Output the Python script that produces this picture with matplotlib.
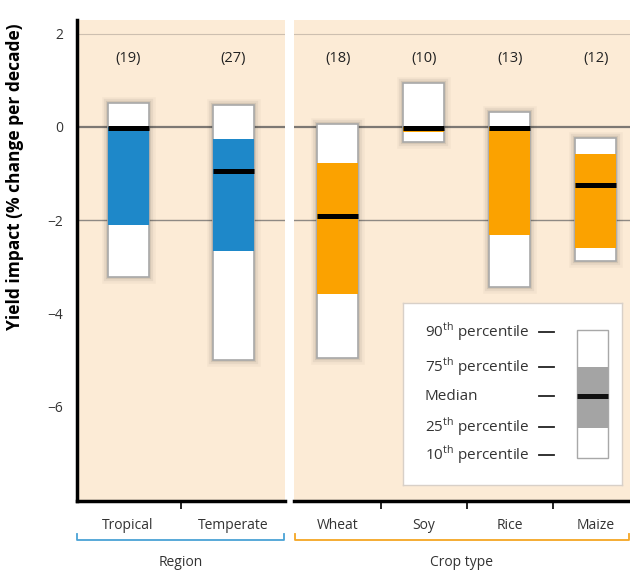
import matplotlib
matplotlib.use("Agg")
import matplotlib.pyplot as plt
import matplotlib.patheffects as pe
from matplotlib.patches import Rectangle

plt.rcParams["font.family"] = ["Open Sans", "DejaVu Sans"]

# percentiles per group: 10th, 25th, median, 75th, 90th
region_names = ["Tropical", "Temperate"]
region_counts = [19, 27]
region_p10 = [-3.22, -5.0]
region_p25 = [-2.1, -2.67]
region_med = [-0.03, -0.95]
region_p75 = [0.0, -0.26]
region_p90 = [0.52, 0.47]

crop_names = ["Wheat", "Soy", "Rice", "Maize"]
crop_counts = [18, 10, 13, 12]
crop_p10 = [-4.97, -0.33, -3.44, -2.88]
crop_p25 = [-3.6, -0.1, -2.32, -2.6]
crop_med = [-1.92, -0.03, -0.03, -1.25]
crop_p75 = [-0.78, 0.0, 0.0, -0.58]
crop_p90 = [0.07, 0.95, 0.33, -0.24]

legend_labels = ["90$^{\\mathregular{th}}$ percentile", "75$^{\\mathregular{th}}$ percentile",
                 "Median", "25$^{\\mathregular{th}}$ percentile", "10$^{\\mathregular{th}}$ percentile"]

BG = "#fcebd6"
BLUE = "#1e88c9"
ORANGE = "#fba200"
EDGE = "#a8a8a8"

W, H = 630, 572
fig = plt.figure(figsize=(W / 100, H / 100), dpi=100)


def px_box(x0, y0, x1, y1):
    return [x0 / W, 1 - y1 / H, (x1 - x0) / W, (y1 - y0) / H]


ax1 = fig.add_axes(px_box(77, 20, 285, 501))
ax2 = fig.add_axes(px_box(294, 20, 630, 501))

glow = [pe.Stroke(linewidth=9, foreground="#000000", alpha=0.03),
        pe.Stroke(linewidth=6, foreground="#000000", alpha=0.05),
        pe.Stroke(linewidth=3, foreground="#000000", alpha=0.08),
        pe.Normal()]


def draw_boxes(ax, names, counts, p10, p25, med, p75, p90, color, width, xlim):
    ax.set_facecolor(BG)
    ax.set_xlim(*xlim)
    ax.set_ylim(-8.04, 2.3)
    ax.axhline(2, color="#cdbfb0", lw=0.8, zorder=1)
    ax.axhline(0, color="#7d7873", lw=1.6, zorder=1)
    ax.axhline(-2, color="#8e8984", lw=1.0, zorder=1)
    for i in range(len(names)):
        outer = Rectangle((i - width / 2, p10[i]), width, p90[i] - p10[i],
                          facecolor="white", edgecolor=EDGE, lw=1.2, zorder=2)
        outer.set_path_effects(glow)
        ax.add_patch(outer)
        ax.add_patch(Rectangle((i - width / 2, p25[i]), width, p75[i] - p25[i],
                               facecolor=color, edgecolor="none", zorder=3))
        ax.hlines(med[i], i - width / 2, i + width / 2, color="black", lw=3.6, zorder=4)
        ax.text(i, 1.48, "(%d)" % counts[i], ha="center", va="center", fontsize=10.5,
                color="#222222")
    ax.set_xticks(range(len(names)))
    ax.set_xticklabels(names, fontsize=10, color="#333333")
    ax.tick_params(axis="x", which="major", length=0, pad=12)
    ax.set_xticks([i + 0.5 for i in range(len(names) - 1)], minor=True)
    ax.tick_params(axis="x", which="minor", length=6, width=1.2, direction="out")
    for s in ["top", "right"]:
        ax.spines[s].set_visible(False)
    ax.spines["bottom"].set_linewidth(2.5)


draw_boxes(ax1, region_names, region_counts, region_p10, region_p25, region_med,
           region_p75, region_p90, BLUE, 0.39, (-0.486, 1.495))
draw_boxes(ax2, crop_names, crop_counts, crop_p10, crop_p25, crop_med,
           crop_p75, crop_p90, ORANGE, 0.48, (-0.51, 3.40))

ax1.spines["left"].set_linewidth(2.5)
ax1.set_yticks([2, 0, -2, -4, -6])
ax1.set_yticklabels(["2", "0", "\u22122", "\u22124", "\u22126"], fontsize=10, color="#333333")
ax1.tick_params(axis="y", length=0, pad=10)
ax1.set_ylabel("Yield impact (% change per decade)", fontsize=12.5, fontweight="bold")
ax1.yaxis.set_label_coords(-0.255, 0.675)
ax2.spines["left"].set_visible(False)
ax2.set_yticks([])

# group brackets under the category labels
def bracket(x0, x1, color, label):
    y = 1 - 540 / H
    up = 6 / H
    fig.add_artist(plt.Line2D([x0 / W, x0 / W, x1 / W, x1 / W], [y + up, y, y, y + up],
                              color=color, lw=1.3))
    fig.text((x0 + x1) / 2 / W, 1 - 562 / H, label, ha="center", va="center",
             fontsize=10, color="#333333")


bracket(77, 284, "#4aa3d6", "Region")
bracket(295, 629, "#f5a623", "Crop type")

# key explaining the box layout
key = fig.add_axes(px_box(403, 303, 622, 485))
key.set_xlim(0, 1)
key.set_ylim(0, 1)
key.set_xticks([])
key.set_yticks([])
key.set_facecolor("white")
for s in key.spines.values():
    s.set_edgecolor("#d8d0c8")
    s.set_linewidth(1)
key_y = [0.84, 0.648, 0.489, 0.319, 0.165]
for lab, y in zip(legend_labels, key_y):
    key.text(0.1, y, lab, ha="left", va="center", fontsize=11, color="#333333")
    key.plot([0.62, 0.69], [y, y], color="#222222", lw=1.3)
key.add_patch(Rectangle((0.795, 0.148), 0.14, 0.704, facecolor="white",
                        edgecolor=EDGE, lw=1))
key.add_patch(Rectangle((0.795, 0.313), 0.14, 0.335, facecolor="#a4a4a4",
                        edgecolor="none"))
key.plot([0.795, 0.935], [0.489, 0.489], color="#111111", lw=3.6, solid_capstyle="butt")

fig.savefig("out.png", dpi=100)
